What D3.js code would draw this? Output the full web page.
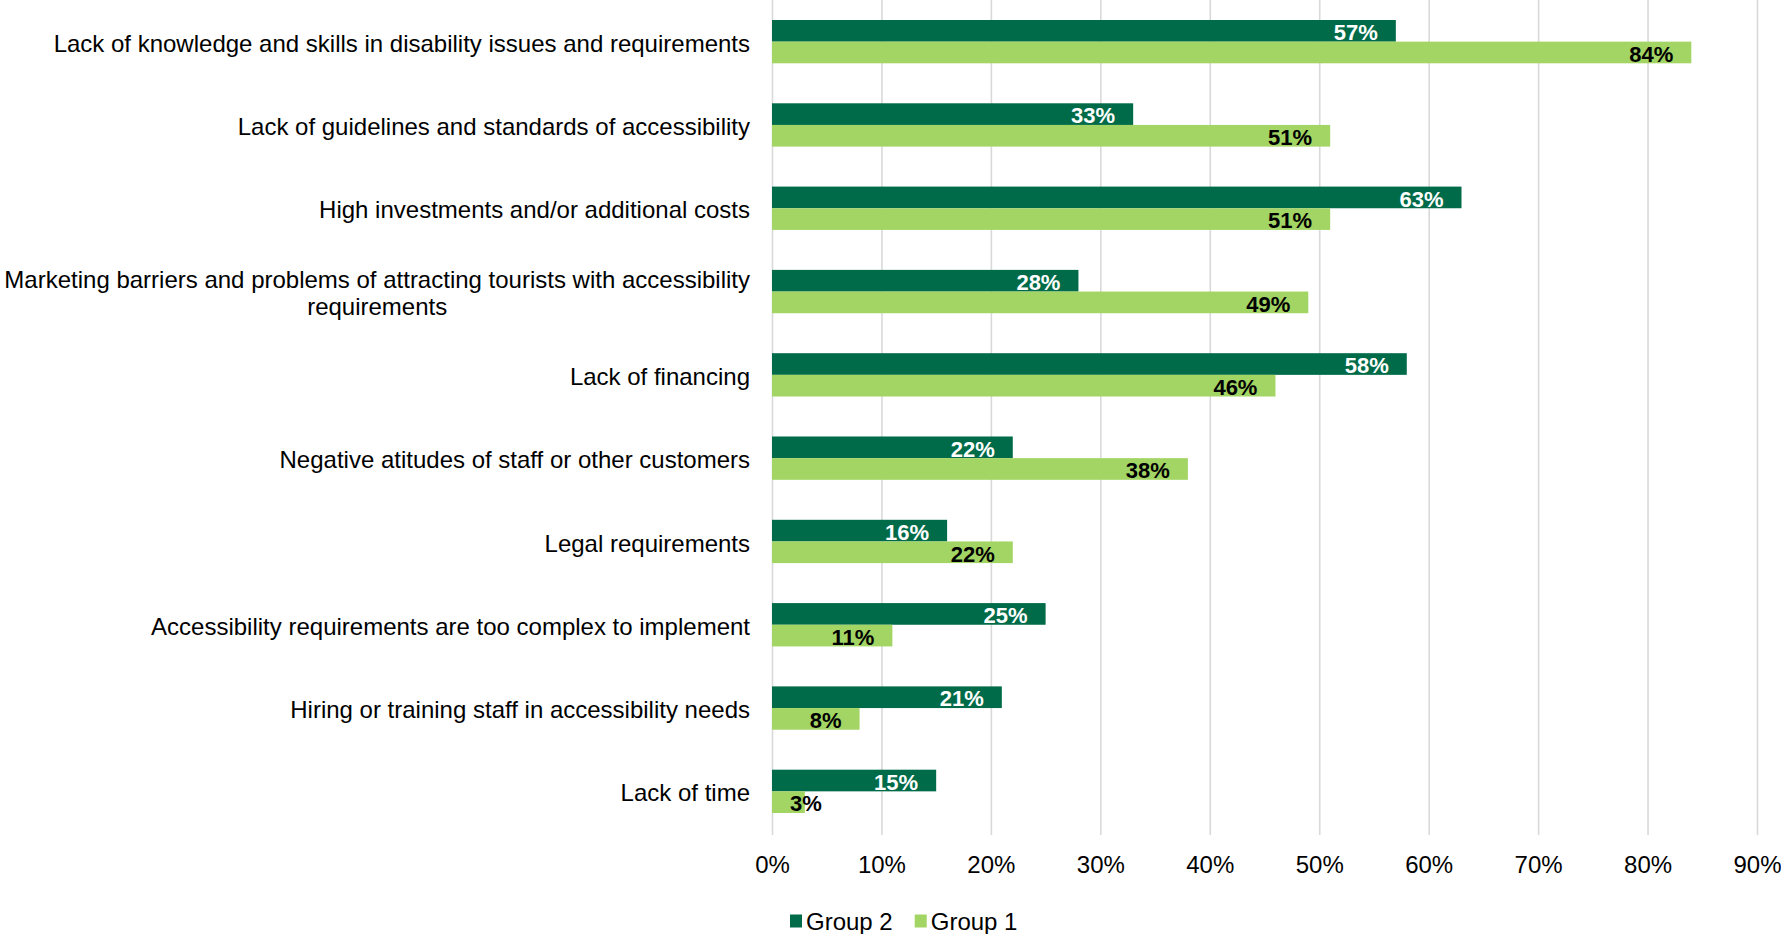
<!DOCTYPE html>
<html>
<head>
<meta charset="utf-8">
<script src="https://cdn.jsdelivr.net/npm/d3@7"></script>
<style>
  html, body { margin: 0; padding: 0; background: #fff; }
  svg { display: block; font-family: "Liberation Sans", Arial, sans-serif; }
</style>
</head>
<body>
<svg id="chart" width="1781" height="934"></svg>
<script>
// Barriers to accessibility, share of respondents per group (%)
const categories = [
  "Lack of knowledge and skills in disability issues and requirements",
  "Lack of guidelines and standards of accessibility",
  "High investments and/or additional costs",
  "Marketing barriers and problems of attracting tourists with accessibility requirements",
  "Lack of financing",
  "Negative atitudes of staff or other customers",
  "Legal requirements",
  "Accessibility requirements are too complex to implement",
  "Hiring or training staff in accessibility needs",
  "Lack of time"
];
const group2 = [57, 33, 63, 28, 58, 22, 16, 25, 21, 15];
const group1 = [84, 51, 51, 49, 46, 38, 22, 11, 8, 3];
const seriesNames = ["Group 2", "Group 1"];
const seriesColors = ["#006b48", "#a2d563"];
const labelColors = ["#ffffff", "#000000"];
const tickValues = [0, 10, 20, 30, 40, 50, 60, 70, 80, 90];

const svg = d3.select("#chart");
const plot = { left: 772, right: 1757, top: 0, bottom: 833 };

const x = d3.scaleLinear().domain([0, 90]).range([plot.left, plot.right]);
const y = d3.scaleBand().domain(categories).range([plot.top, plot.bottom])
  .paddingInner(0.48).paddingOuter(0.24);
const ySub = d3.scaleBand().domain(seriesNames).range([0, y.bandwidth()]);

// gridlines
svg.append("g")
  .attr("transform", `translate(0,${plot.bottom + 2})`)
  .call(d3.axisBottom(x).tickValues(tickValues).tickSize(-(plot.bottom + 2 - plot.top)).tickFormat(""))
  .call(g => g.select(".domain").remove())
  .call(g => g.selectAll("line").attr("stroke", "#d9d9d9").attr("stroke-width", 1.6));

// x tick labels
svg.append("g")
  .attr("transform", `translate(0,${plot.bottom + 20})`)
  .call(d3.axisBottom(x).tickValues(tickValues).tickSize(0).tickFormat(d => d + "%"))
  .call(g => g.select(".domain").remove())
  .call(g => g.selectAll("text")
    .attr("font-size", 24)
    .attr("fill", "#000")
    .attr("font-family", "Liberation Sans, Arial, sans-serif"));

// bars
const rows = categories.map((c, i) => ({ cat: c, values: [group2[i], group1[i]] }));
const groups = svg.append("g").selectAll("g").data(rows).join("g")
  .attr("transform", d => `translate(0,${y(d.cat)})`);

groups.selectAll("rect")
  .data(d => d.values.map((v, k) => ({ v, k })))
  .join("rect")
  .attr("x", x(0))
  .attr("y", d => ySub(seriesNames[d.k]))
  .attr("width", d => x(d.v) - x(0))
  .attr("height", ySub.bandwidth())
  .attr("fill", d => seriesColors[d.k]);

// value labels at the inside end of each bar
groups.selectAll("text.val")
  .data(d => d.values.map((v, k) => ({ v, k })))
  .join("text")
  .attr("class", "val")
  .attr("y", d => ySub(seriesNames[d.k]) + ySub.bandwidth() / 2)
  .attr("dy", "0.42em")
  .attr("text-anchor", "end")
  .attr("font-size", 22)
  .attr("font-weight", "bold")
  .attr("fill", d => labelColors[d.k])
  .text(d => d.v + "%")
  .attr("x", function (d) {
    const w = this.getComputedTextLength();
    return Math.max(x(d.v) - 18, x(0) + 18 + w);
  });

// category labels, wrapped and right-aligned against the axis
const labelRight = 750, maxLabelWidth = 762, lineHeight = 27;
const catG = svg.append("g");
categories.forEach(c => {
  const t = catG.append("text")
    .attr("font-size", 24)
    .attr("fill", "#000");
  // greedy word wrap
  const words = c.split(" ");
  const lines = [];
  let cur = "";
  const probe = t.append("tspan");
  words.forEach(w => {
    const test = cur ? cur + " " + w : w;
    probe.text(test);
    if (probe.node().getComputedTextLength() > maxLabelWidth && cur) {
      lines.push(cur);
      cur = w;
    } else cur = test;
  });
  lines.push(cur);
  probe.remove();
  // measure lines
  const widths = lines.map(l => {
    const s = t.append("tspan").text(l);
    const w = s.node().getComputedTextLength();
    s.remove();
    return w;
  });
  const blockW = d3.max(widths);
  const cx = labelRight - blockW / 2;
  const cy = y(c) + y.bandwidth() / 2;
  const y0 = cy - (lines.length - 1) * lineHeight / 2;
  lines.forEach((l, i) => {
    t.append("tspan")
      .attr("x", cx)
      .attr("y", y0 + i * lineHeight)
      .attr("dy", "0.42em")
      .attr("text-anchor", "middle")
      .text(l);
  });
});

// legend
const legend = svg.append("g").attr("transform", "translate(790,921)");
let lx = 0;
seriesNames.forEach((name, k) => {
  const item = legend.append("g").attr("transform", `translate(${lx},0)`);
  item.append("rect").attr("x", 0).attr("y", -6.5).attr("width", 12).attr("height", 13)
    .attr("fill", seriesColors[k]);
  const txt = item.append("text").attr("x", 16).attr("dy", "0.36em")
    .attr("font-size", 24).attr("fill", "#000").text(name);
  lx += 16 + txt.node().getComputedTextLength() + 22;
});
</script>
</body>
</html>
